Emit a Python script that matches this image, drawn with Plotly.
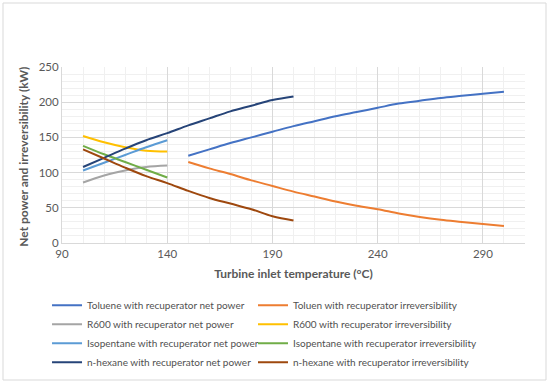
import plotly.graph_objects as go

tol_x = [150, 160, 170, 180, 190, 200, 210, 220, 230, 240, 250, 260, 270, 280, 290, 300]
tol_net = [124, 133, 142, 150, 158, 166, 173, 180, 186, 192, 198, 202, 206, 209, 212, 215]
tol_irr = [115, 106, 98, 89, 81, 73, 66, 59, 53, 48, 42, 37, 33, 30, 27, 24]

short_x = [100, 110, 120, 130, 140]
r600_net = [86, 96, 103, 108, 110]
r600_irr = [152, 143, 136, 131, 130]
iso_net = [103, 114, 125, 136, 146]
iso_irr = [138, 126, 115, 104, 93]

hex_x = [100, 110, 120, 130, 140, 150, 160, 170, 180, 190, 200]
hex_net = [108, 121, 134, 146, 156, 167, 177, 187, 195, 203, 208]
hex_irr = [133, 120, 107, 95, 85, 74, 64, 56, 48, 38, 32]

series = [
    ("Toluene with recuperator net power", tol_x, tol_net, "#4472C4", "legend"),
    ("Toluen with recuperator irreversibility", tol_x, tol_irr, "#ED7D31", "legend2"),
    ("R600 with recuperator net power", short_x, r600_net, "#A5A5A5", "legend"),
    ("R600 with recuperator irreversibility", short_x, r600_irr, "#FFC000", "legend2"),
    ("Isopentane with recuperator net power", short_x, iso_net, "#5B9BD5", "legend"),
    ("Isopentane with recuperator irreversibility", short_x, iso_irr, "#70AD47", "legend2"),
    ("n-hexane with recuperator net power", hex_x, hex_net, "#264478", "legend"),
    ("n-hexane with recuperator irreversibility", hex_x, hex_irr, "#9E480E", "legend2"),
]

fig = go.Figure()
for name, xs, ys, col, lg in series:
    fig.add_trace(go.Scatter(x=xs, y=ys, name=name, mode="lines", legend=lg,
                             line=dict(color=col, width=2, shape="spline")))

font = "Lato, 'Open Sans', sans-serif"
leg_common = dict(orientation="v", xref="container", yref="container",
                  xanchor="left", y=0.245, yanchor="top", tracegroupgap=0,
                  font=dict(size=10, color="#505050", family=font), itemwidth=30,
                  bgcolor="rgba(0,0,0,0)")
fig.update_layout(
    width=550, height=385,
    margin=dict(l=62, r=25, t=67, b=142, autoexpand=False),
    paper_bgcolor="white", plot_bgcolor="white",
    font=dict(family=font, color="#595959", size=11),
    showlegend=True,
    legend=dict(x=0.0855, **leg_common),
    legend2=dict(x=0.46, **leg_common),
    xaxis=dict(range=[90, 310], tickvals=[90, 140, 190, 240, 290],
               showgrid=True, gridcolor="#D9D9D9", gridwidth=1,
               minor=dict(dtick=10, tick0=90, showgrid=True, gridcolor="#F0F0F0"),
               showline=True, linecolor="#D9D9D9", zeroline=False,
               ticks="", tickfont=dict(size=11.5, color="#595959"), automargin=False,
               title=dict(text="<b>Turbine inlet temperature (°C)</b>", standoff=10,
                          font=dict(size=12, color="#595959"))),
    yaxis=dict(range=[0, 250], dtick=50,
               showgrid=True, gridcolor="#D9D9D9", gridwidth=1,
               minor=dict(dtick=10, showgrid=True, gridcolor="#F0F0F0"),
               showline=True, linecolor="#D9D9D9", zeroline=False, automargin=False,
               ticks="", tickfont=dict(size=11.5, color="#595959")),
    annotations=[dict(text="<b>Net power and irreversibility (kW)</b>",
                      xref="paper", yref="paper", x=(24 - 62) / 463, y=0.49,
                      textangle=-90, showarrow=False, xanchor="center", yanchor="middle",
                      font=dict(size=12, color="#595959", family=font))],
    shapes=[dict(type="rect", xref="paper", yref="paper",
                 x0=(3 - 62) / 463, x1=(546 - 62) / 463,
                 y0=(243 - 380) / 176, y1=(243 - 3) / 176,
                 line=dict(color="#D9D9D9", width=1), layer="below")],
)

fig.write_html("out.html", config={"displayModeBar": False},
               post_script="document.body.style.margin='0';")
